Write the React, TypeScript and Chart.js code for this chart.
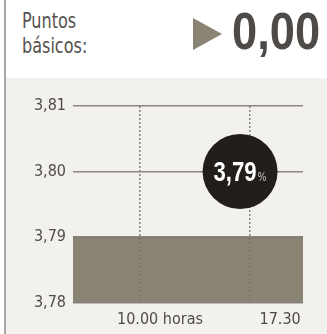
import React, { useEffect, useRef } from "react";
import { Chart, registerables } from "chart.js";

Chart.register(...registerables);

// ---- data ----
const Y_MIN = 3.78;
const Y_MAX = 3.81;
const Y_STEP = 0.01;
const X_MIN = 5.43; // hours
const X_MAX = 21.11;
const AREA_X = [5.43, 21.11];
const AREA_Y = [3.79, 3.79];
const GRID_TIMES = [10, 17.5];
const X_TICK_LABELS = ["10.00 horas", "17.30"];
const X_LABEL_AT = [11.36, 19.55];
const LAST_X = 16.82;
const LAST_Y = 3.8;
const LAST_TEXT = "3,79";
const HEADER_LABEL = ["Puntos", "básicos:"];
const HEADER_VALUE = "0,00";

const COND = '"DejaVu Sans Condensed", sans-serif';
const BOLDF = '"Liberation Sans", Arial, sans-serif';

const bubbleText = {
  id: "bubbleText",
  afterDatasetsDraw(chart: any) {
    const meta = chart.getDatasetMeta(0);
    const pt = meta.data[0];
    if (!pt) return;
    const ctx = chart.ctx;
    const sx = 0.82;
    ctx.save();
    ctx.font = `bold 27px ${BOLDF}`;
    const w1 = ctx.measureText(LAST_TEXT).width * sx;
    ctx.font = `13px ${COND}`;
    const w2 = ctx.measureText("%").width * sx;
    const x0 = pt.x - (w1 + w2 + 1) / 2;
    const base = pt.y + 9;
    ctx.textBaseline = "alphabetic";
    ctx.textAlign = "left";
    ctx.translate(x0, base);
    ctx.scale(sx, 1);
    ctx.fillStyle = "#ffffff";
    ctx.font = `bold 27px ${BOLDF}`;
    ctx.fillText(LAST_TEXT, 0, 0);
    ctx.fillStyle = "#c8c6c2";
    ctx.font = `13px ${COND}`;
    ctx.fillText("%", (w1 + 1) / sx, 0);
    ctx.restore();
  },
};

export default function App() {
  const ref = useRef<HTMLCanvasElement | null>(null);

  useEffect(() => {
    document.body.style.margin = "0";
    const canvas = ref.current;
    if (!canvas) return;
    const chart = new Chart(canvas, {
      type: "line",
      data: {
        datasets: [
          {
            type: "scatter",
            data: [{ x: LAST_X, y: LAST_Y }],
            pointRadius: 37.5,
            pointHoverRadius: 37.5,
            backgroundColor: "#221e1b",
            borderWidth: 0,
            order: 0,
            clip: false,
          } as any,
          {
            type: "line",
            data: AREA_X.map((x, i) => ({ x, y: AREA_Y[i] })),
            fill: "start",
            backgroundColor: "rgba(121,114,96,0.86)",
            borderWidth: 0,
            pointRadius: 0,
            order: 1,
          } as any,
        ],
      },
      options: {
        animation: false,
        responsive: false,
        maintainAspectRatio: false,
        events: [],
        layout: { autoPadding: false, padding: { top: 21, right: 24, left: 0, bottom: 0 } },
        plugins: { legend: { display: false }, tooltip: { enabled: false } },
        scales: {
          x: {
            type: "linear",
            position: "bottom",
            min: X_MIN,
            max: X_MAX,
            border: { display: false, dash: [2, 2] },
            grid: {
              color: "#8a8782",
              lineWidth: 1.6,
              drawTicks: false,
            },
            ticks: { display: false },
            afterBuildTicks: (s: any) => {
              s.ticks = GRID_TIMES.map((v) => ({ value: v }));
            },
            afterFit: (s: any) => {
              s.height = 0;
              s.paddingLeft = 0;
              s.paddingRight = 0;
            },
          } as any,
          x2: {
            type: "linear",
            position: "bottom",
            min: X_MIN,
            max: X_MAX,
            border: { display: false },
            grid: { display: false, drawTicks: false },
            ticks: {
              font: { family: COND, size: 16 },
              color: "#4f4c48",
              padding: 8,
              maxRotation: 0,
              autoSkip: false,
              callback: (v: any) => {
                const i = X_LABEL_AT.indexOf(Number(v));
                return i >= 0 ? X_TICK_LABELS[i] : "";
              },
            },
            afterBuildTicks: (s: any) => {
              s.ticks = X_LABEL_AT.map((v) => ({ value: v }));
            },
            afterFit: (s: any) => {
              s.height = 31.5;
              s.paddingLeft = 0;
              s.paddingRight = 0;
            },
          } as any,
          y: {
            type: "linear",
            min: Y_MIN,
            max: Y_MAX,
            border: { display: false },
            grid: { color: "#8a857e", lineWidth: 1.4, drawTicks: false },
            ticks: {
              stepSize: Y_STEP,
              font: { family: COND, size: 16 },
              color: "#4f4c48",
              padding: 7,
              callback: (v: any) => Number(v).toFixed(2).replace(".", ","),
            },
            afterFit: (s: any) => {
              s.width = 67;
              s.paddingTop = 0;
              s.paddingBottom = 0;
            },
          } as any,
        },
      } as any,
      plugins: [bubbleText],
    });
    return () => chart.destroy();
  }, []);

  return (
    <div
      style={{
        position: "relative",
        width: 327,
        height: 334,
        background: "#ffffff",
        overflow: "hidden",
      }}
    >
      <div
        style={{
          position: "absolute",
          left: 4,
          top: 0,
          width: 2,
          height: 334,
          background: "#a9a7a4",
        }}
      />
      <div
        style={{
          position: "absolute",
          left: 22,
          top: 9,
          fontFamily: COND,
          fontSize: 21,
          lineHeight: "25px",
          color: "#55524e",
          transform: "scaleX(0.85)",
          transformOrigin: "0 0",
          whiteSpace: "nowrap",
        }}
      >
        {HEADER_LABEL[0]}
        <br />
        {HEADER_LABEL[1]}
      </div>
      <div
        style={{
          position: "absolute",
          left: 193,
          top: 18,
          width: 0,
          height: 0,
          borderLeft: "29px solid #8a8474",
          borderTop: "16px solid transparent",
          borderBottom: "16px solid transparent",
        }}
      />
      <div
        style={{
          position: "absolute",
          left: 232,
          top: 1,
          fontFamily: BOLDF,
          fontWeight: "bold",
          fontSize: 52,
          lineHeight: "60px",
          color: "#4d4a47",
          transform: "scaleX(0.87)",
          transformOrigin: "0 0",
          whiteSpace: "nowrap",
        }}
      >
        {HEADER_VALUE}
      </div>
      <div
        style={{
          position: "absolute",
          left: 6,
          top: 78,
          width: 321,
          height: 256,
          background: "#f2f1ee",
        }}
      />
      <canvas
        ref={ref}
        width={321}
        height={249}
        style={{ position: "absolute", left: 6, top: 85, width: 321, height: 249 }}
      />
    </div>
  );
}
